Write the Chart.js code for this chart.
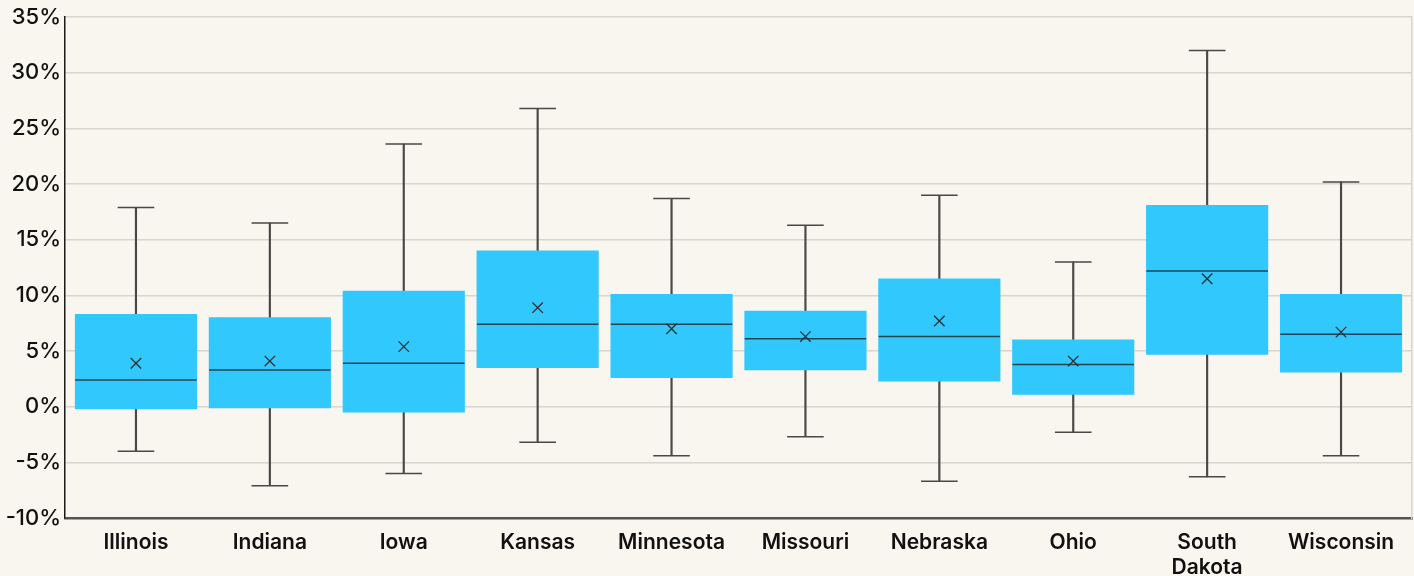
<!DOCTYPE html>
<html>
<head>
<meta charset="utf-8">
<script src="https://cdn.jsdelivr.net/npm/chart.js@4/dist/chart.umd.min.js"></script>
<style>
  html, body { margin: 0; padding: 0; background: #f9f5ef; }
  #wrap { width: 1414px; height: 576px; }
</style>
</head>
<body>
<div id="wrap"><canvas id="c" width="1414" height="576"></canvas></div>
<script>
// ---- Data (percent) ----
const states = ["Illinois", "Indiana", "Iowa", "Kansas", "Minnesota", "Missouri", "Nebraska", "Ohio", "South Dakota", "Wisconsin"];
const whiskerMin = [-4.0, -7.1, -6.0, -3.2, -4.4, -2.7, -6.7, -2.3, -6.3, -4.4];
const q1        = [-0.2, -0.1, -0.5,  3.5,  2.6,  3.3,  2.3,  1.1,  4.7,  3.1];
const median    = [ 2.4,  3.3,  3.9,  7.4,  7.4,  6.1,  6.3,  3.8, 12.2,  6.5];
const q3        = [ 8.3,  8.0, 10.4, 14.0, 10.1,  8.6, 11.5,  6.0, 18.1, 10.1];
const whiskerMax = [17.9, 16.5, 23.6, 26.8, 18.7, 16.3, 19.0, 13.0, 32.0, 20.2];
const mean      = [ 3.9,  4.1,  5.4,  8.9,  7.0,  6.3,  7.7,  4.1, 11.5,  6.7];
const yTicks    = [-10, -5, 0, 5, 10, 15, 20, 25, 30, 35];

const BOX = '#31c8fd';
const INK = '#4a4745';

const bgPlugin = {
  id: 'bg',
  beforeDraw(chart) {
    const ctx = chart.ctx;
    ctx.save();
    ctx.fillStyle = '#f9f5ef';
    ctx.fillRect(0, 0, chart.width, chart.height);
    ctx.restore();
  }
};

const pts = arr => arr.map((v, i) => ({ x: i, y: v }));

new Chart(document.getElementById('c'), {
  type: 'bar',
  data: {
    datasets: [
      {
        type: 'bar', label: 'whisker',
        data: states.map((s, i) => ({ x: i, y: [whiskerMin[i], whiskerMax[i]] })),
        backgroundColor: INK, barThickness: 1.5, grouped: false, order: 5
      },
      {
        type: 'bar', label: 'box',
        data: states.map((s, i) => ({ x: i, y: [q1[i], q3[i]] })),
        backgroundColor: BOX, barThickness: 121.5, grouped: false, order: 4
      },
      {
        type: 'line', label: 'capTop', data: pts(whiskerMax), showLine: false, clip: false,
        pointStyle: 'line', pointRadius: 18.3, pointBorderWidth: 1.5,
        pointBorderColor: INK, borderColor: INK, order: 2
      },
      {
        type: 'line', label: 'capBottom', data: pts(whiskerMin), showLine: false, clip: false,
        pointStyle: 'line', pointRadius: 18.3, pointBorderWidth: 1.5,
        pointBorderColor: INK, borderColor: INK, order: 2
      },
      {
        type: 'line', label: 'median', data: pts(median), showLine: false, clip: false,
        pointStyle: 'line', pointRadius: 60.75, pointBorderWidth: 1.5,
        pointBorderColor: 'rgba(35,45,50,0.85)', borderColor: 'rgba(35,45,50,0.85)', order: 1
      },
      {
        type: 'line', label: 'mean', data: pts(mean), showLine: false, clip: false,
        pointStyle: 'crossRot', pointRadius: 7.4, pointBorderWidth: 1.3,
        pointBorderColor: '#2a2f33', borderColor: '#2a2f33', order: 1
      }
    ]
  },
  options: {
    responsive: false,
    animation: false,
    events: [],
    layout: { autoPadding: false, padding: { top: 15, right: 2, left: 0, bottom: 0 } },
    plugins: { legend: { display: false }, tooltip: { enabled: false } },
    scales: {
      x: {
        type: 'linear',
        min: -0.53, max: 9.53,
        offset: false,
        grid: { display: false },
        border: { color: '#555350', width: 2.5 },
        afterFit(scale) { scale.height = 58; },
        afterBuildTicks(scale) { scale.ticks = states.map((s, i) => ({ value: i })); },
        ticks: {
          autoSkip: false, maxRotation: 0, minRotation: 0, padding: 4,
          color: '#111',
          font: { family: 'Inter', size: 21, weight: '600', lineHeight: 1.2 },
          callback: (v) => {
            const name = states[v];
            return name && name.indexOf(' ') > 0 ? name.split(' ') : name;
          }
        }
      },
      y: {
        min: -10, max: 35,
        afterFit(scale) { scale.width = 65; },
        afterBuildTicks(scale) { scale.ticks = yTicks.map(v => ({ value: v })); },
        grid: { color: '#d9d4ce', lineWidth: 1.5, drawTicks: false },
        border: { color: '#1a1a1a', width: 1.5 },
        ticks: {
          padding: 4, color: '#111',
          font: { family: 'Inter', size: 22, weight: '500' },
          callback: v => v + '%'
        }
      },
      yRight: {
        position: 'right', min: -10, max: 35,
        afterFit(scale) { scale.width = 0; },
        grid: { display: false },
        ticks: { display: false },
        border: { color: '#d9d4ce', width: 1.5 }
      }
    }
  },
  plugins: [bgPlugin]
});
</script>
</body>
</html>
